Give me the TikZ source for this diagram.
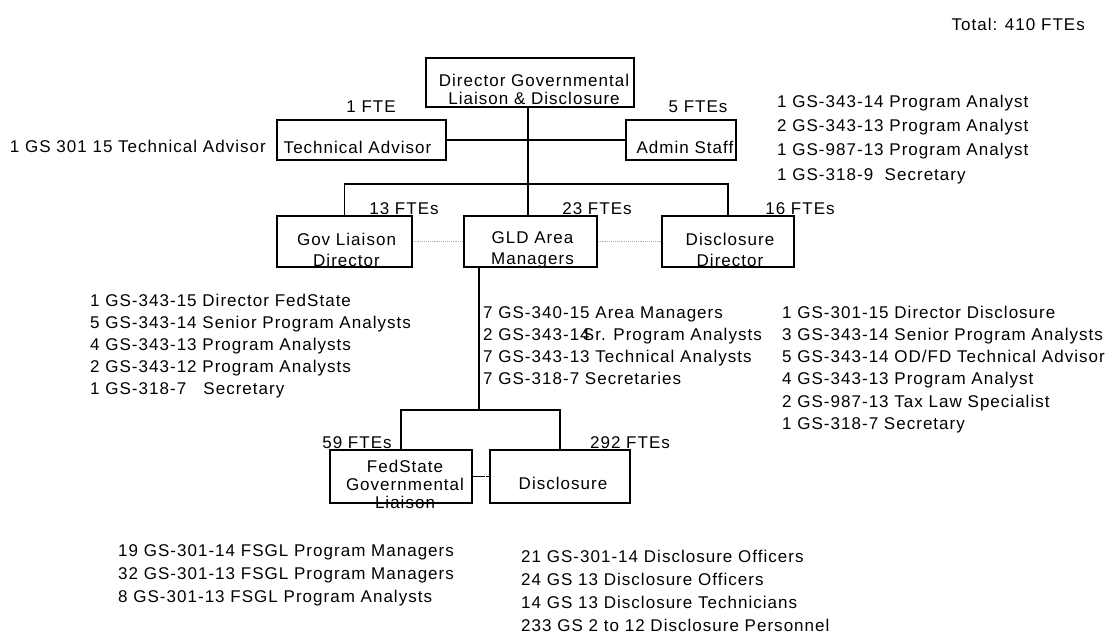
\documentclass[tikz,border=0pt]{standalone}
\usepackage{fontspec}
\setmainfont[LetterSpace=6]{Liberation Sans}
\begin{document}
\begin{tikzpicture}[
    x=1pt, y=-1pt,
    txt/.style={font=\fontsize{17}{18}\selectfont, inner sep=0pt},
    box/.style 2 args={draw=black, line width=1.5pt, minimum width=#1, minimum height=#2, inner sep=0pt},
    boxtext/.style={txt, align=center},
    roster/.style={txt, anchor=base west},
    link/.style={line width=1.5pt},
    faint/.style={line width=0.9pt, gray!65, densely dotted}
]
    \useasboundingbox (0,0) rectangle (1115,639);

    % boxes
    \node[box={208pt}{49pt}] (dir) at (530,82.5) {};
    \node[box={169pt}{40pt}] (ta) at (361.5,140) {};
    \node[box={110pt}{40pt}] (adm) at (681,140) {};
    \node[box={135pt}{51pt}] (gl) at (344.5,241.5) {};
    \node[box={133pt}{51pt}] (gld) at (530.5,241.5) {};
    \node[box={132pt}{51pt}] (dd) at (728,241.5) {};
    \node[box={142pt}{53pt}] (fs) at (401,476.5) {};
    \node[box={140pt}{53pt}] (ds) at (560,476.5) {};

    % box texts
    \node[boxtext] (dirtxt) at ([shift={(4,7)}]dir.center) {Director Governmental\\Liaison \& Disclosure};
    \node[boxtext] (tatxt) at ([shift={(-4,7)}]ta.center) {Technical Advisor};
    \node[boxtext] (admtxt) at ([shift={(4,7)}]adm.center) {Admin Staff};
    \node[boxtext, font=\fontsize{17}{21}\selectfont] (gltxt) at ([shift={(2,8)}]gl.center) {Gov Liaison\\Director};
    \node[boxtext, font=\fontsize{17}{21}\selectfont] (gldtxt) at ([shift={(2,8)}]gld.center) {GLD Area\\Managers};
    \node[boxtext, font=\fontsize{17}{21}\selectfont] (ddtxt) at ([shift={(2,8)}]dd.center) {Disclosure\\Director};
    \node[boxtext] (fstxt) at ([shift={(4,8)}]fs.center) {FedState\\Governmental\\Liaison};
    \node[boxtext] (dstxt) at ([shift={(3,7)}]ds.center) {Disclosure};

    % connectors
    \coordinate (bar) at (528,184);
    \coordinate (lowbar) at (479,410);
    \draw[link] (dir.south -| bar) -- (gld.north -| bar);
    \draw[link] (ta.east) -- (adm.west);
    \draw[link] (gl.north) |- (bar) -| (dd.north);
    \draw[faint] (gl.east) -- (gld.west);
    \draw[faint] (gld.east) -- (dd.west);
    \draw[link] (gld.south -| lowbar) -- (lowbar);
    \draw[link] (fs.north) |- (lowbar) -| (ds.north);
    \draw[link, dash pattern=on 12pt off 1.5pt] (fs.east) -- (ds.west);

    % FTE counts
    \node[txt, anchor=east] (total) at (1085,24) {Total: 410 FTEs};
    \node[txt] (fte1) at (371,107) {1 FTE};
    \node[txt] (fte5) at (698,107) {5 FTEs};
    \node[txt] (fte13) at (404,209) {13 FTEs};
    \node[txt] (fte23) at (597,209) {23 FTEs};
    \node[txt] (fte16) at (800,209) {16 FTEs};
    \node[txt] (fte59) at (357,443) {59 FTEs};
    \node[txt] (fte292) at (630,443) {292 FTEs};

    % staffing lists
    \node[txt, anchor=east] (talist) at (266,146) {1 GS 301 15 Technical Advisor};
    \foreach \line [count=\i] in {1 GS-343-14 Program Analyst, 2 GS-343-13 Program Analyst,
        1 GS-987-13 Program Analyst, 1 GS-318-9\ \ Secretary}
        \node[roster] (admlist\i) at (777,{108+24*(\i-1)}) {\line};
    \foreach \line [count=\i] in {1 GS-343-15 Director FedState, 5 GS-343-14 Senior Program Analysts,
        4 GS-343-13 Program Analysts, 2 GS-343-12 Program Analysts, 1 GS-318-7\ \ \ Secretary}
        \node[roster] (gllist\i) at (90,{306+22*(\i-1)}) {\line};
    \foreach \line [count=\i] in {7 GS-340-15 Area Managers, 2 GS-343-14\hspace{-0.4em}Sr. Program Analysts,
        7 GS-343-13 Technical Analysts, 7 GS-318-7 Secretaries}
        \node[roster] (gldlist\i) at (483,{318+22.3*(\i-1)}) {\line};
    \foreach \line [count=\i] in {1 GS-301-15 Director Disclosure, 3 GS-343-14 Senior Program Analysts,
        5 GS-343-14 OD/FD Technical Advisor, 4 GS-343-13 Program Analyst,
        2 GS-987-13 Tax Law Specialist, 1 GS-318-7 Secretary}
        \node[roster] (ddlist\i) at (782,{318+22.3*(\i-1)}) {\line};
    \foreach \line [count=\i] in {19 GS-301-14 FSGL Program Managers, 32 GS-301-13 FSGL Program Managers,
        8 GS-301-13 FSGL Program Analysts}
        \node[roster] (fslist\i) at (118,{556+23*(\i-1)}) {\line};
    \foreach \line [count=\i] in {21 GS-301-14 Disclosure Officers, 24 GS 13 Disclosure Officers,
        14 GS 13 Disclosure Technicians, 233 GS 2 to 12 Disclosure Personnel}
        \node[roster] (dslist\i) at (521,{562+23*(\i-1)}) {\line};
\end{tikzpicture}
\end{document}
